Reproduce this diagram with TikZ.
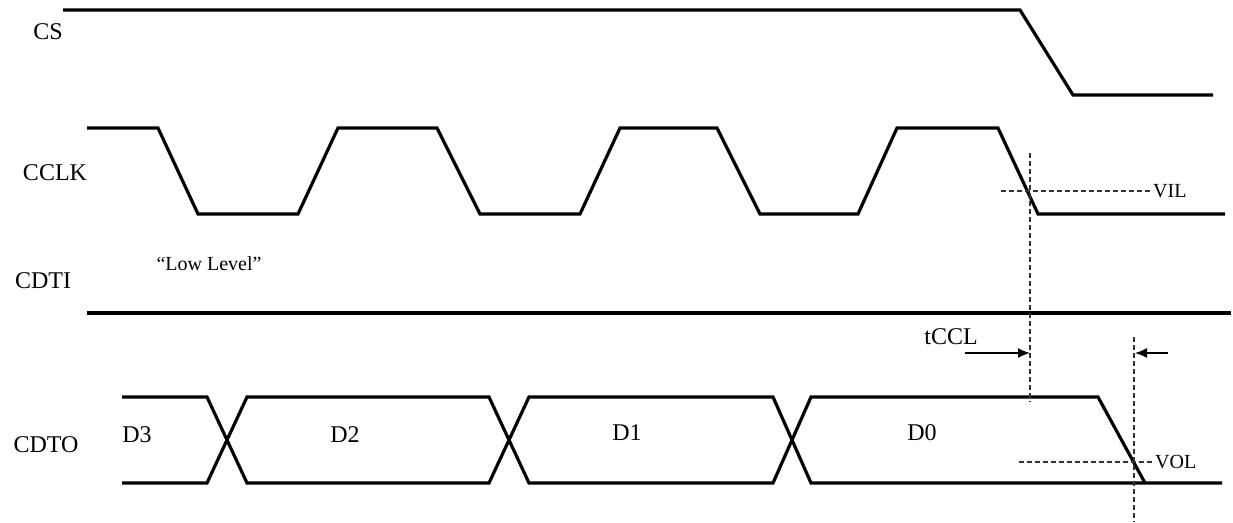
\documentclass[tikz,border=0pt]{standalone}
\usepackage{fontspec}
\setmainfont{Liberation Serif}
\usetikzlibrary{arrows.meta, positioning}
\tikzset{
    wave/.style={line width=3.2pt, line join=miter}, % the signal lines
    guide/.style={line width=1.1pt, dash pattern=on 5pt off 3pt, black!80}, % dashed level and time marks
    sig/.style={font=\fontsize{24}{28}\selectfont, inner sep=0pt}, % signal names
    lvl/.style={font=\fontsize{20}{24}\selectfont, inner sep=0pt}, % small texts
    dim/.style={line width=1.4pt, -{Latex[length=12pt,width=10pt]}}, % timing arrows
}

\begin{document}
\begin{tikzpicture}[x=1pt, y=-1pt]
    \useasboundingbox (0,0) rectangle (1233,522);
    % signal names
    \node[sig] (cs) at (48,32) {CS};
    \node[sig] (cclk) at (55,173) {CCLK};
    \node[sig] (cdti) at (43,281) {CDTI};
    \node[sig] (cdto) at (46,445) {CDTO};
    \node[lvl] (low) at (209,264) {“Low Level”};
    % CS
    \draw[wave] (63,10) -- (1020,10) -- (1073,95) -- (1213,95);
    % CCLK
    \draw[wave] (87,128) -- (158,128) -- (198,214) -- (298,214) -- (338,128) -- (437,128)
        -- (480,214) -- (580,214) -- (620,128) -- (717,128) -- (760,214) -- (858,214)
        -- (897,128) -- (998,128) -- (1038,214) -- (1225,214);
    % CDTI
    \draw[wave] (87,313) -- (1231,313);
    % CDTO
    \draw[wave] (122,397) -- (207,397) -- (247,483) -- (489,483) -- (529,397) -- (773,397)
        -- (811,483) -- (1222,483);
    \draw[wave] (122,483) -- (207,483) -- (247,397) -- (489,397) -- (529,483) -- (773,483)
        -- (811,397) -- (1098,397) -- (1145,483);
    \node[sig] (d3) at (137,435) {D3};
    \node[sig] (d2) at (345,435) {D2};
    \node[sig] (d1) at (627,433) {D1};
    \node[sig] (d0) at (922,433) {D0};
    % levels and timing
    \draw[guide] (1030,153) -- (1030,402);
    \draw[guide] (1134,337) -- (1134,522);
    \node[lvl, anchor=west] (vil) at (1153,191) {VIL};
    \draw[guide] (1001,191) -- (vil.west);
    \node[lvl, anchor=west] (vol) at (1155,462) {VOL};
    \draw[guide] (1019,462) -- (vol.west);
    \node[sig] (tccl) at (951,337) {tCCL};
    \coordinate (t1) at (965,353);
    \coordinate (t2) at (1030,353);
    \coordinate (t3) at (1168,353);
    \coordinate (t4) at (1135,353);
    \draw[dim] (t1) -- (t2);
    \draw[dim] (t3) -- (t4);
\end{tikzpicture}
\end{document}
